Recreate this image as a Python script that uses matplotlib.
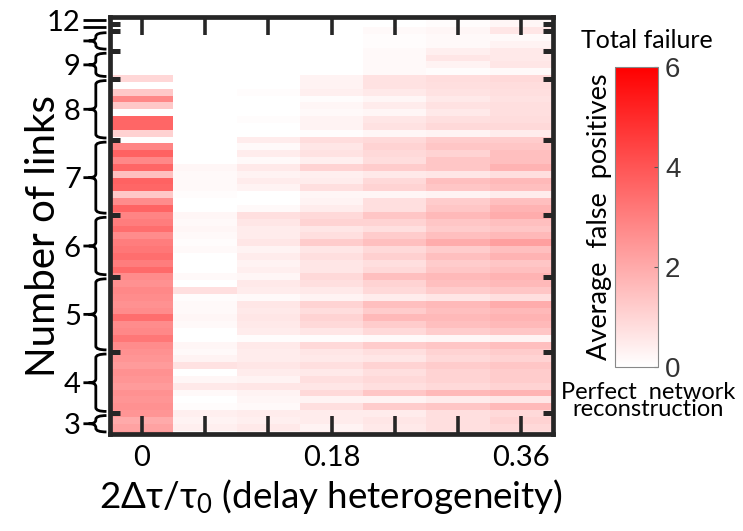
import matplotlib
matplotlib.use("Agg")
import matplotlib.pyplot as plt
import numpy as np
from matplotlib.colors import LinearSegmentedColormap
from matplotlib.path import Path
from matplotlib.patches import PathPatch
import matplotlib.transforms as mtransforms

plt.rcParams['font.family'] = ['Lato', 'DejaVu Sans']
plt.rcParams['mathtext.fontset'] = 'custom'
plt.rcParams['mathtext.rm'] = 'Lato'
plt.rcParams['mathtext.it'] = 'Lato:italic'

# delay heterogeneity (columns)
delays = [0, 0.06, 0.12, 0.18, 0.24, 0.30, 0.36]
delay_labels = ["0", "", "", "0.18", "", "", "0.36"]

# networks grouped by number of links, top to bottom
link_groups = [12, 11, 10, 9, 8, 7, 6, 5, 4, 3]
group_sizes = [1, 1, 3, 4, 9, 11, 9, 11, 9, 3]
group_labels = ["12", "", "", "9", "8", "7", "6", "5", "4", "3"]

# average false positives per network (rows top to bottom), one list per delay
fp_000 = [0, 0, 0, 0, 0, 0, 0, 0, 0.95, 0, 1.3, 2.8, 1.3, 0, 3.6, 3.6, 1.1, 0.05,
          2.9, 3.7, 2.8, 3.6, 1.5, 3.7, 3.6, 1.3, 2.7, 3.65, 2.9, 3.05, 3.4,
          2.7, 3.05, 3.2, 3.4, 3.05, 3.5, 2.7, 2.6, 2.8, 2.7, 2.6, 2.7, 3.4, 2.7, 2.8,
          3.2, 2.7, 2.6, 2.5, 2.35, 2.6, 2.5, 2.35, 2.6, 2.5, 2.6, 2.5, 2.0, 2.2, 2.35]
fp_006 = [0, 0, 0, 0, 0, 0, 0, 0, 0, 0, 0, 0, 0, 0, 0, 0, 0, 0, 0, 0, 0,
          0.22, 0.15, 0.15, 0.15, 0.08, 0, 0, 0.22, 0.15, 0.22,
          0.15, 0.08, 0.15, 0, 0, 0, 0.15, 0, 0.75, 0.08, 0.15, 0.15, 0.22, 0.15, 0,
          0, 0.22, 0.15, 0.3, 0.68, 0, 0.22, 0.52, 0.15, 0, 0.08, 0.38, 0.3, 0.38, 0.08]
fp_012 = [0, 0, 0, 0, 0, 0, 0, 0, 0, 0, 0.08, 0, 0, 0, 0.08, 0, 0, 0.45,
          0.15, 0.45, 0.15, 0.52, 0.3, 0.45, 0.3, 0, 0, 0.15, 0.75, 0.6, 0.45,
          0.45, 0.6, 0.3, 0.45, 0.3, 0.38, 0.22, 0.52, 0.45, 0.15, 0.6, 0.52, 0.6, 0.52, 0.45,
          0.08, 0.52, 0.45, 0.45, 0.6, 0.45, 0.3, 0.6, 0.3, 0.22, 0.15, 0.45, 0.38, 0.52, 0.3]
fp_018 = [0, 0, 0, 0, 0, 0, 0, 0, 0.3, 0.3, 0.38, 0.08, 0.22, 0.15, 0.3, 0.3, 0.08, 0.82,
          0.6, 0.68, 0.38, 1.05, 0.38, 0.45, 0.75, 0.22, 0.3, 0.45, 0.9, 1.05, 0.6,
          0.75, 1.2, 0.6, 0.75, 0.6, 0.6, 0.9, 0.75, 0.52, 0.3, 1.05, 0.82, 1.05, 0.9, 0.6,
          0.08, 0.9, 0.6, 0.52, 0.75, 0.52, 0.75, 0.6, 0.9, 0.3, 0.75, 0.45, 0.45, 0.3, 0.45]
fp_024 = [0, 0.15, 0.08, 0.08, 0.15, 0.15, 0.15, 0.15, 0.68, 0.68, 0.52, 0.22, 0.45, 0.22, 0.6, 0.68, 0.22, 0.9,
          1.05, 0.9, 0.82, 1.2, 0.52, 0.9, 1.05, 0.22, 0.75, 0.75, 1.35, 1.05, 0.75,
          1.2, 1.5, 0.9, 1.12, 0.75, 0.9, 1.5, 1.05, 0.9, 0.45, 1.5, 1.2, 1.65, 1.2, 0.9,
          0.15, 1.2, 0.75, 0.6, 1.05, 0.75, 0.9, 0.75, 1.35, 0.3, 1.2, 0.45, 0.6, 0.52, 0.45]
fp_030 = [0.08, 0.22, 0.15, 0.15, 0.38, 0.6, 0.3, 0.08, 0.82, 0.75, 0.68, 0.52, 0.68, 0.52, 0.75, 0.9, 0.3, 1.2,
          1.35, 1.05, 1.35, 1.35, 0.6, 1.5, 1.35, 0.3, 1.2, 1.35, 1.65, 1.35, 1.2,
          1.5, 1.95, 1.2, 1.5, 1.2, 1.35, 1.65, 1.5, 1.2, 0.6, 1.65, 1.5, 1.65, 1.5, 1.2,
          0.22, 1.35, 1.05, 0.9, 1.2, 1.05, 1.05, 0.9, 1.65, 0.45, 1.35, 0.75, 0.75, 0.75, 0.6]
fp_036 = [0.22, 0.6, 0.15, 0.3, 0.52, 0.52, 0.6, 0.15, 0.9, 0.82, 0.75, 0.68, 0.75, 0.75, 0.82, 0.9, 0.45, 1.2,
          1.35, 1.5, 1.5, 1.8, 0.75, 1.65, 1.5, 0.45, 1.5, 1.8, 1.95, 1.5, 1.35,
          1.65, 2.25, 1.5, 1.8, 1.35, 1.5, 1.8, 1.65, 1.35, 0.75, 1.95, 1.65, 1.8, 1.65, 1.35,
          0.3, 1.5, 1.2, 1.05, 1.35, 1.2, 1.2, 1.05, 1.8, 0.6, 1.65, 0.9, 1.05, 0.9, 0.75]

Z = np.array([fp_000, fp_006, fp_012, fp_018, fp_024, fp_030, fp_036]).T
n_rows = Z.shape[0]

cmap = LinearSegmentedColormap.from_list("wr", ["#ffffff", "#ff0000"])

fig = plt.figure(figsize=(7.43, 5.31), dpi=100)
ax = fig.add_axes([110/743, 1-434/531, 443/743, 417/531])

step = delays[1] - delays[0]
x_edges = np.r_[delays[0] - step/2, np.array(delays) + step/2]
y_edges = np.r_[0, np.arange(1.5, n_rows, 1.0), n_rows]
mesh = ax.pcolormesh(x_edges, y_edges, Z, cmap=cmap, vmin=0, vmax=6,
                     shading='flat', antialiased=False)
ax.set_xlim(x_edges[0], x_edges[-1])
ax.set_ylim(n_rows, 0)

frame = '#262626'
for s in ax.spines.values():
    s.set_linewidth(3.4)
    s.set_color(frame)

ax.set_xticks(delays)
ax.set_xticklabels(delay_labels)
ax.tick_params(axis='x', direction='in', length=13, width=2.6, color=frame,
               top=True, bottom=True, labelsize=21, pad=8)

ends = np.cumsum(group_sizes)
bounds = ends[:-1]
centers = ends - np.array(group_sizes) / 2
ax.set_yticks(bounds)
ax.set_yticklabels([])
ax.set_yticks(centers, minor=True)
ax.set_yticklabels(group_labels, minor=True)
ax.tick_params(axis='y', which='major', direction='in', length=7, width=3.6,
               color=frame, left=True, right=True)
ax.tick_params(axis='y', which='minor', length=0, pad=21, labelsize=21)

ax.set_xlabel(r"2Δτ/τ$_0$ (delay heterogeneity)", fontsize=26.5, labelpad=4)
ax.set_ylabel("Number of links", fontsize=29)
ax.yaxis.set_label_coords(-0.108, 0.475)

# curly braces for the link groups
trans = mtransforms.blended_transform_factory(ax.transAxes, ax.transData)
x_end, x_mid, x_pt, x_tip = -0.008, -0.032, -0.048, -0.06
r = 0.55
for start, size in zip(ends - np.array(group_sizes), group_sizes):
    c = start + size / 2
    if size == 1:
        ax.plot([x_tip, x_end], [c, c], color='black', lw=2.0, transform=trans,
                clip_on=False, solid_capstyle='butt')
        continue
    a = start + 0.3
    b = start + size - 0.3
    verts = [(x_end, a), (x_mid, a), (x_mid, a + r), (x_mid, c - r),
             (x_mid, c), (x_pt, c), (x_mid, c), (x_mid, c + r),
             (x_mid, b - r), (x_mid, b), (x_end, b),
             (x_pt, c), (x_tip, c)]
    codes = [Path.MOVETO, Path.CURVE3, Path.CURVE3, Path.LINETO,
             Path.CURVE3, Path.CURVE3, Path.CURVE3, Path.CURVE3,
             Path.LINETO, Path.CURVE3, Path.CURVE3,
             Path.MOVETO, Path.LINETO]
    ax.add_patch(PathPatch(Path(verts, codes), fill=False, lw=2.0, ec='black',
                           transform=trans, clip_on=False))

# colorbar
cax = fig.add_axes([615/743, 1-367/531, 43/743, 300/531])
cb = fig.colorbar(mesh, cax=cax, ticks=[0, 2, 4, 6])
cb.outline.set_edgecolor('#888888')
cb.outline.set_linewidth(0.8)
cb.ax.tick_params(direction='in', length=3, width=0.8, color='#555555',
                  labelsize=20, labelcolor='#333333', pad=5)
for t in cb.ax.get_yticklabels():
    t.set_family('Liberation Sans')
cb.ax.yaxis.set_label_position('left')
cb.set_label("Average  false  positives", fontsize=19.5, labelpad=2)

fig.text(647/743, 1-40/531, "Total failure", ha='center', va='center', fontsize=18)
fig.text(648/743, 1-401/531, "Perfect  network\nreconstruction", ha='center',
         va='center', fontsize=17, linespacing=0.8)

fig.savefig("out.png", dpi=100)
